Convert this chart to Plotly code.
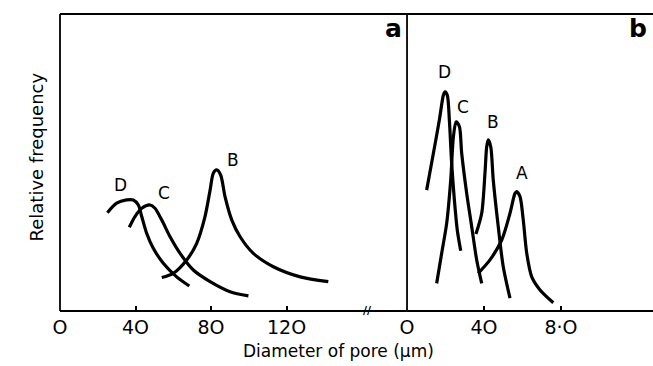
import plotly.graph_objects as go

# ---------------- data ----------------
# Panel a: pore diameter (µm), relative frequency (arbitrary units 0-100)
a_D_x = [25.1, 30.0, 35.3, 38.8, 41.5, 43.3, 45.9, 49.4, 54.7, 61.8, 68.5]
a_D_y = [33.1, 36.3, 37.4, 37.4, 35.7, 31.8, 26.2, 21.1, 16.1, 11.5, 8.4]
a_C_x = [36.7, 39.7, 43.3, 47.7, 50.3, 53.9, 58.3, 63.6, 70.6, 79.5, 90.1, 99.8]
a_C_y = [28.2, 31.8, 34.6, 35.7, 34.6, 30.6, 25.0, 19.4, 13.8, 9.9, 6.5, 5.1]
a_B_x = [53.9, 60.0, 67.1, 72.4, 76.8, 79.5, 81.2, 83.0, 85.1, 87.4, 91.0, 95.4, 102.4, 113.0, 127.2, 142.1]
a_B_y = [11.3, 12.7, 17.2, 22.8, 31.8, 40.7, 46.4, 47.5, 45.8, 38.5, 30.6, 25.0, 19.4, 14.9, 11.5, 9.9]

# Panel b
b_D_x = [1.02, 1.37, 1.68, 1.89, 1.97, 2.09, 2.20, 2.32, 2.46, 2.61, 2.79]
b_D_y = [40.7, 53.1, 64.3, 72.7, 73.8, 72.7, 64.3, 49.7, 37.4, 27.3, 20.3]
b_C_x = [1.54, 1.80, 2.06, 2.27, 2.41, 2.55, 2.72, 2.84, 3.10, 3.36, 3.62, 3.88]
b_C_y = [9.3, 19.4, 29.5, 44.1, 58.7, 63.7, 62.1, 53.1, 39.6, 28.4, 17.2, 9.3]
b_B_x = [3.58, 3.88, 4.05, 4.14, 4.22, 4.35, 4.48, 4.74, 5.00, 5.35]
b_B_y = [25.9, 32.9, 46.4, 55.3, 57.6, 55.3, 44.1, 28.4, 14.9, 4.3]
b_A_x = [3.70, 4.31, 4.92, 5.35, 5.61, 5.70, 5.87, 6.04, 6.22, 6.48, 6.91, 7.60]
b_A_y = [12.7, 17.2, 23.9, 32.9, 39.6, 40.2, 38.5, 30.6, 19.4, 11.5, 7.1, 2.8]

a_tickvals = [0, 40, 80, 120]
a_ticktext = ["O", "4O", "8O", "12O"]
b_tickvals = [0, 4, 8]
b_ticktext = ["O", "4O", "8·O"]

x_title = "Diameter of pore (µm)"
y_title = "Relative frequency"

FONT = "DejaVu Sans"
LW = 3.2

fig = go.Figure()
line = dict(color="black", width=LW, shape="spline", smoothing=0.8)
for xs, ys in [(a_D_x, a_D_y), (a_C_x, a_C_y), (a_B_x, a_B_y)]:
    fig.add_trace(go.Scatter(x=xs, y=ys, mode="lines", line=line, xaxis="x", yaxis="y",
                             showlegend=False, hoverinfo="skip"))
for xs, ys in [(b_D_x, b_D_y), (b_C_x, b_C_y), (b_B_x, b_B_y), (b_A_x, b_A_y)]:
    fig.add_trace(go.Scatter(x=xs, y=ys, mode="lines", line=line, xaxis="x2", yaxis="y",
                             showlegend=False, hoverinfo="skip"))

split = 0.5852
tickfont = dict(family=FONT, size=19, color="black")
fig.update_layout(
    width=653, height=366,
    margin=dict(l=60, r=0, t=14, b=55),
    paper_bgcolor="white", plot_bgcolor="white",
    xaxis=dict(domain=[0, split], range=[0, 183.8], tickvals=a_tickvals, ticktext=a_ticktext,
               ticks="inside", ticklen=5, tickwidth=1.5, tickcolor="black", ticklabelstandoff=3,
               showgrid=False, zeroline=False, showline=False, tickfont=tickfont, anchor="y"),
    xaxis2=dict(domain=[split, 1], range=[0, 12.78], tickvals=b_tickvals, ticktext=b_ticktext,
                ticks="inside", ticklen=5, tickwidth=1.5, tickcolor="black", ticklabelstandoff=3,
                showgrid=False, zeroline=False, showline=False, tickfont=tickfont, anchor="y"),
    yaxis=dict(range=[0, 100], showticklabels=False, ticks="", showgrid=False,
               zeroline=False, showline=False),
)

frame = dict(color="black", width=1.8)
fig.add_shape(type="line", xref="paper", yref="paper", x0=0, x1=1, y0=0, y1=0, line=frame)
fig.add_shape(type="line", xref="paper", yref="paper", x0=0, x1=1, y0=1, y1=1, line=frame)
fig.add_shape(type="line", xref="paper", yref="paper", x0=0, x1=0, y0=0, y1=1, line=frame)
fig.add_shape(type="line", xref="paper", yref="paper", x0=split, x1=split, y0=0, y1=1, line=frame)

lab = dict(family=FONT, size=17, color="black")
for txt, x, y, xr in [("D", 31.8, 42.4, "x"), ("C", 55.1, 39.7, "x"), ("B", 91.7, 50.8, "x"),
                      ("D", 1.97, 80.5, "x2"), ("C", 2.91, 68.7, "x2"), ("B", 4.47, 63.6, "x2"),
                      ("A", 5.97, 46.5, "x2")]:
    fig.add_annotation(x=x, y=y, xref=xr, yref="y", text=txt, showarrow=False, font=lab)

big = dict(family=FONT, size=25, color="black")
fig.add_annotation(x=176.4, y=95.0, xref="x", yref="y", text="<b>a</b>", showarrow=False, font=big)
fig.add_annotation(x=12.0, y=95.0, xref="x2", yref="y", text="<b>b</b>", showarrow=False, font=big)

# axis break mark
fig.add_annotation(x=162.6, y=0.3, xref="x", yref="y", text="<b>//</b>", showarrow=False,
                   font=dict(family=FONT, size=11, color="black"))

fig.add_annotation(x=0.47, y=-0.135, xref="paper", yref="paper", text=x_title, showarrow=False,
                   yanchor="middle", font=dict(family=FONT, size=17, color="black"))
fig.add_annotation(x=-0.06, y=0.52, xref="paper", yref="paper", text=y_title, showarrow=False,
                   textangle=-90, font=dict(family=FONT, size=18, color="black"))

fig.write_html("out.html")
